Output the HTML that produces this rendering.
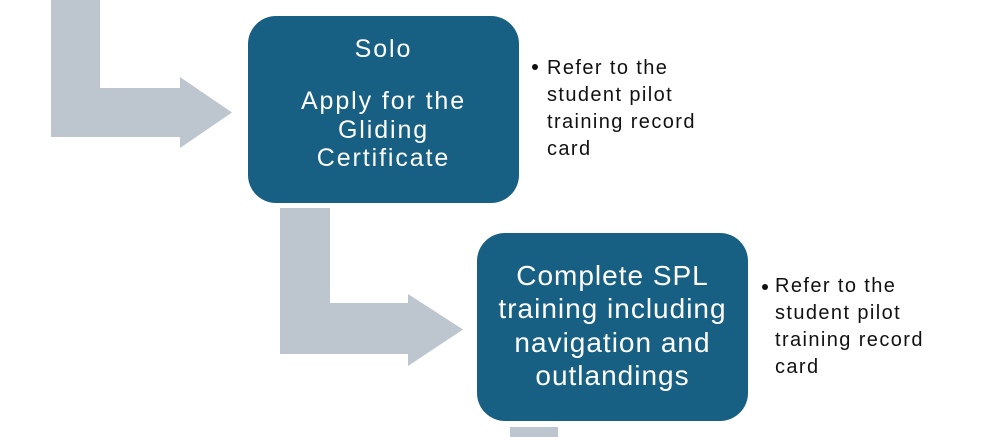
<!DOCTYPE html>
<html>
<head>
<meta charset="utf-8">
<style>
  html, body { margin:0; padding:0; background:#ffffff; }
  body { width:996px; height:437px; position:relative; overflow:hidden; font-family:"Liberation Sans", Arial, sans-serif; }
  svg { position:absolute; left:0; top:0; }
  .t { position:absolute; color:#ffffff; text-align:center; white-space:nowrap; }
  .b1 { font-size:25px; line-height:28.5px; letter-spacing:1.9px; left:248px; width:271px; }
  .b2 { font-size:28px; line-height:33.5px; letter-spacing:1px; left:477px; width:271px; }
  .bl { position:absolute; color:#111111; font-size:20px; line-height:27px; letter-spacing:1.4px; white-space:nowrap; }
  .dot { position:absolute; width:6px; height:6px; border-radius:50%; background:#111111; }
</style>
</head>
<body>
<svg width="996" height="437" viewBox="0 0 996 437">
  <polygon fill="#BDC6CF" points="51,0 100,0 100,88 180,88 180,77 232,112.5 180,148 180,137 51,137"/>
  <polygon fill="#BDC6CF" points="280,208 330,208 330,303 408,303 408,294 463,329.5 408,366 408,354 280,354"/>
  <rect x="510" y="427" width="48" height="12" fill="#BDC6CF"/>
  <rect x="248" y="16" width="271" height="187" rx="28" ry="28" fill="#176083"/>
  <rect x="477" y="233" width="271" height="188" rx="28" ry="28" fill="#176083"/>
</svg>

<div class="t b1" style="top:35px;">Solo</div>
<div class="t b1" style="top:87px;">Apply for the<br>Gliding<br>Certificate</div>

<div class="t b2" style="top:258.5px;">Complete SPL<br>training including<br>navigation and<br>outlandings</div>

<div class="dot" style="left:532px; top:64px;"></div>
<div class="bl" style="left:547px; top:54.5px;">Refer to the<br>student pilot<br>training record<br>card</div>

<div class="dot" style="left:762px; top:284px;"></div>
<div class="bl" style="left:775px; top:272.5px;">Refer to the<br>student pilot<br>training record<br>card</div>
</body>
</html>
